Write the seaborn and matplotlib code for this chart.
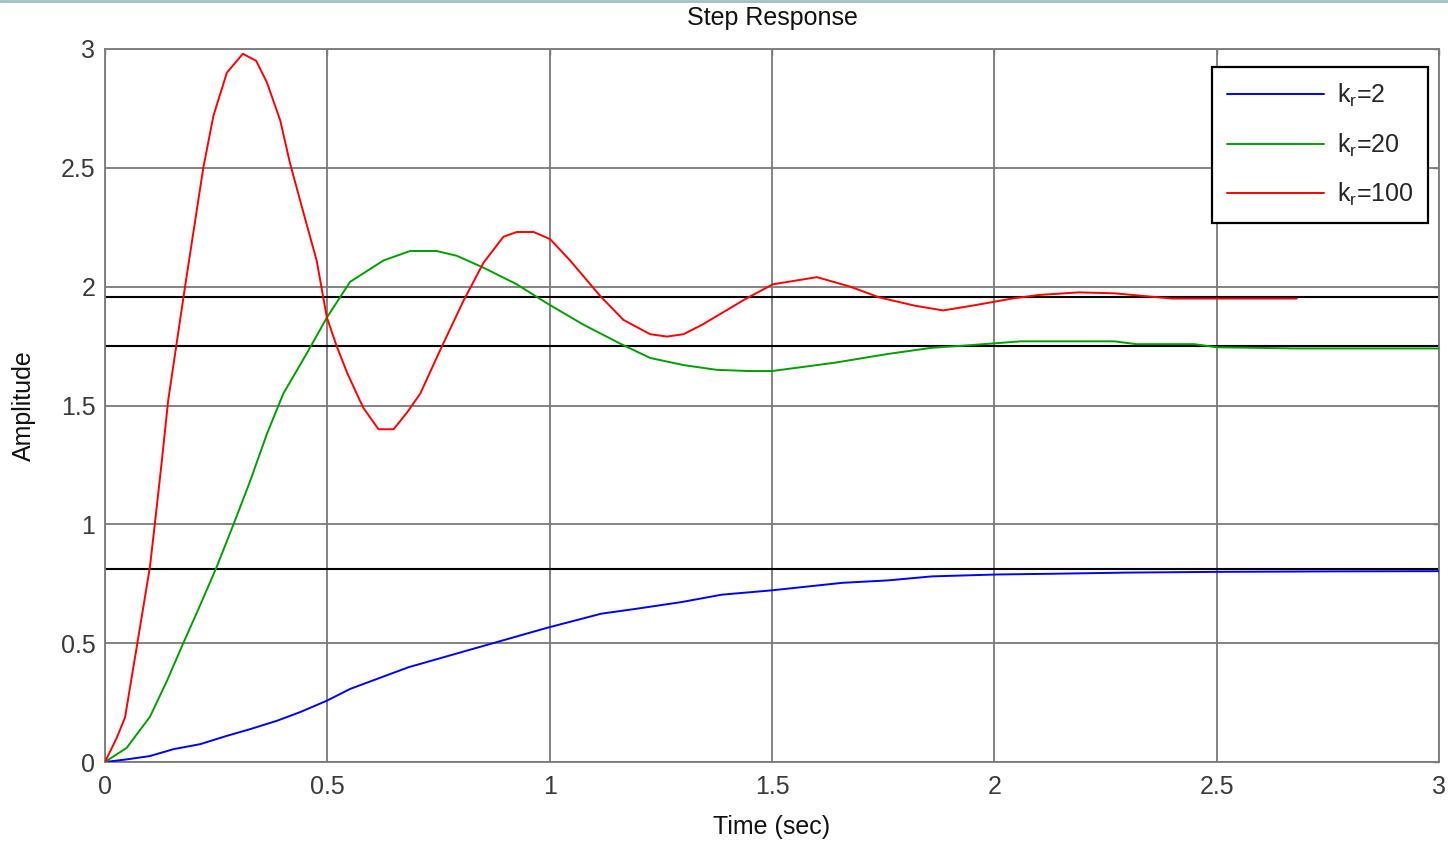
import matplotlib
matplotlib.use("Agg")
import matplotlib.pyplot as plt
import seaborn as sns
import numpy as np
import pandas as pd

# ---- data ----
t_kr2 = [0, 0.049, 0.101, 0.154, 0.214, 0.274, 0.326, 0.386, 0.439, 0.499, 0.552,
         0.683, 0.854, 0.995, 1.116, 1.196, 1.297, 1.387, 1.498, 1.659, 1.760, 1.860,
         2.006, 2.13, 2.30, 2.50, 2.75, 3.0]
y_kr2 = [0, 0.011, 0.025, 0.054, 0.075, 0.11, 0.138, 0.173, 0.21, 0.258, 0.308,
         0.399, 0.490, 0.565, 0.624, 0.645, 0.673, 0.704, 0.722, 0.754, 0.764, 0.781,
         0.789, 0.792, 0.797, 0.800, 0.802, 0.803]

t_kr20 = [0, 0.049, 0.101, 0.139, 0.176, 0.214, 0.251, 0.289, 0.326, 0.364, 0.401,
          0.454, 0.499, 0.551, 0.626, 0.686, 0.746, 0.791, 0.851, 0.926, 0.994, 1.076,
          1.159, 1.226, 1.301, 1.376, 1.45, 1.5, 1.641, 1.761, 1.86, 1.94, 2.06, 2.27,
          2.32, 2.45, 2.50, 2.68, 3.0]
y_kr20 = [0, 0.06, 0.19, 0.34, 0.50, 0.66, 0.82, 1.00, 1.18, 1.38, 1.55,
          1.72, 1.87, 2.02, 2.11, 2.15, 2.15, 2.13, 2.08, 2.01, 1.93, 1.84,
          1.76, 1.70, 1.67, 1.65, 1.645, 1.645, 1.68, 1.717, 1.743, 1.753, 1.77, 1.77,
          1.758, 1.758, 1.745, 1.74, 1.74]

t_kr100 = [0, 0.026, 0.045, 0.071, 0.101, 0.112, 0.128, 0.142, 0.161, 0.180, 0.221,
           0.244, 0.274, 0.310, 0.340, 0.364, 0.394, 0.416, 0.445, 0.476, 0.499, 0.521,
           0.544, 0.566, 0.581, 0.615, 0.649, 0.679, 0.709, 0.753, 0.806, 0.851, 0.896,
           0.926, 0.964, 1.001, 1.046, 1.114, 1.166, 1.226, 1.264, 1.301, 1.343, 1.442,
           1.502, 1.601, 1.676, 1.741, 1.821, 1.885, 1.950, 2.04, 2.10, 2.19, 2.27,
           2.34, 2.40, 2.68]
y_kr100 = [0, 0.10, 0.187, 0.48, 0.82, 1.00, 1.27, 1.52, 1.76, 2.0, 2.50,
           2.72, 2.90, 2.98, 2.95, 2.86, 2.70, 2.52, 2.32, 2.11, 1.87, 1.75,
           1.64, 1.55, 1.49, 1.40, 1.40, 1.47, 1.55, 1.73, 1.94, 2.10, 2.21,
           2.23, 2.23, 2.20, 2.11, 1.96, 1.86, 1.80, 1.79, 1.80, 1.84, 1.95,
           2.01, 2.04, 2.00, 1.955, 1.92, 1.90, 1.92, 1.95, 1.965, 1.976, 1.972,
           1.96, 1.95, 1.95]

steady_levels = [0.81, 1.75, 1.955]

labels = [r"k$_\mathregular{r}$=2", r"k$_\mathregular{r}$=20", r"k$_\mathregular{r}$=100"]
colors = ["#0000ff", "#00a000", "#ff0000"]

x_ticks = [0, 0.5, 1, 1.5, 2, 2.5, 3]
x_ticklabels = ["0", "0.5", "1", "1.5", "2", "2.5", "3"]
y_ticks = [0, 0.5, 1, 1.5, 2, 2.5, 3]
y_ticklabels = ["0", "0.5", "1", "1.5", "2", "2.5", "3"]

# ---- style ----
sns.set_style("white")
plt.rcParams["font.family"] = ["Liberation Sans", "DejaVu Sans"]
plt.rcParams["mathtext.fontset"] = "custom"
plt.rcParams["mathtext.rm"] = "Liberation Sans"

fig = plt.figure(figsize=(14.48, 8.43), dpi=100)
ax = fig.add_axes([105 / 1448, 1 - 762 / 843, (1439 - 105) / 1448, (762 - 49) / 843])

# decorative top border line of the screenshot
fig.add_artist(plt.Line2D([0, 1], [0.999, 0.999], transform=fig.transFigure,
                          color="#9fc0c6", lw=2))

series = [(t_kr2, y_kr2), (t_kr20, y_kr20), (t_kr100, y_kr100)]
for (t, y), lab, c in zip(series, labels, colors):
    df = pd.DataFrame({"t": t, "y": y})
    sns.lineplot(data=df, x="t", y="y", color=c, lw=1.4, label=lab,
                 sort=False, estimator=None, ax=ax, zorder=3)

for lvl in steady_levels:
    ax.axhline(lvl, color="black", lw=1.5, zorder=2.5)

ax.set_xlim(0, 3)
ax.set_ylim(0, 3)
ax.set_xticks(x_ticks)
ax.set_xticklabels(x_ticklabels)
ax.set_yticks(y_ticks)
ax.set_yticklabels(y_ticklabels)

ax.grid(True, color="#7a7a7a", lw=1.3)
ax.set_axisbelow(True)
for s in ax.spines.values():
    s.set_color("#7a7a7a")
    s.set_linewidth(1.3)

ax.tick_params(axis="both", direction="in", length=4, width=1, color="#7a7a7a",
               labelsize=18, labelcolor="#3a3a3a", top=True, right=True)
ax.tick_params(axis="x", pad=9)
ax.tick_params(axis="y", pad=7)

ax.set_title("Step Response", fontsize=18, color="#111111", pad=17)
ax.set_xlabel("Time (sec)", fontsize=18, color="#111111")
ax.set_ylabel("Amplitude", fontsize=18, color="#111111")
ax.xaxis.set_label_coords(0.5, -0.075)
ax.yaxis.set_label_coords(-0.052, 0.5)

leg = ax.legend(loc="upper right", bbox_to_anchor=(0.992, 0.975), borderaxespad=0,
                fontsize=18, frameon=True, fancybox=False, shadow=False,
                handlelength=3.9, handletextpad=0.5, labelspacing=0.9,
                borderpad=0.6)
leg.get_frame().set_edgecolor("black")
leg.get_frame().set_linewidth(1.6)
leg.get_frame().set_alpha(1)
for h in leg.get_lines():
    h.set_linewidth(1.4)

fig.savefig("out.png", dpi=100)
